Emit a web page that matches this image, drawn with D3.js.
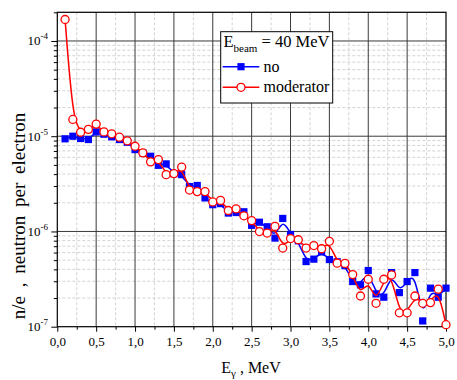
<!DOCTYPE html>
<html>
<head>
<meta charset="utf-8">
<script src="https://cdn.jsdelivr.net/npm/d3@7"></script>
<style>
  html, body { margin: 0; padding: 0; background: #fff; }
  svg { display: block; }
  text { font-family: "Liberation Serif", "Times New Roman", serif; fill: #000; }
</style>
</head>
<body>
<svg id="chart" width="457" height="380"></svg>
<script>
// Photon energy, MeV
const energy = [0.1,0.2,0.3,0.4,0.5,0.6,0.7,0.8,0.9,1.0,
                1.1,1.2,1.3,1.4,1.5,1.6,1.7,1.8,1.9,2.0,
                2.1,2.2,2.3,2.4,2.5,2.6,2.7,2.8,2.9,3.0,
                3.1,3.2,3.3,3.4,3.5,3.6,3.7,3.8,3.9,4.0,
                4.1,4.2,4.3,4.4,4.5,4.6,4.7,4.8,4.9,5.0];

// Neutron yield per electron, no moderator
const noModerator = [9.39e-6,1.00e-5,9.46e-6,9.23e-6,1.11e-5,1.05e-5,9.86e-6,9.23e-6,8.65e-6,7.24e-6,
                     6.69e-6,6.16e-6,4.95e-6,5.12e-6,4.05e-6,3.95e-6,2.96e-6,3.04e-6,2.25e-6,1.91e-6,
                     1.96e-6,1.56e-6,1.58e-6,1.61e-6,1.16e-6,1.25e-6,1.12e-6,8.52e-7,1.37e-6,9.30e-7,
                     7.98e-7,4.83e-7,5.12e-7,6.11e-7,5.07e-7,4.80e-7,4.38e-7,2.98e-7,2.75e-7,3.89e-7,
                     2.21e-7,2.04e-7,3.70e-7,2.28e-7,2.98e-7,3.70e-7,1.15e-7,2.54e-7,2.04e-7,2.54e-7];

// Neutron yield per electron, with moderator
const withModerator = [1.68e-4,1.50e-5,1.10e-5,1.18e-5,1.34e-5,1.11e-5,1.06e-5,9.76e-6,8.95e-6,7.85e-6,
                       6.69e-6,5.38e-6,5.69e-6,3.95e-6,4.05e-6,4.74e-6,2.72e-6,2.62e-6,2.62e-6,2.04e-6,
                       2.12e-6,1.66e-6,1.73e-6,1.46e-6,1.30e-6,9.97e-7,9.62e-7,1.13e-6,6.69e-7,8.42e-7,
                       8.18e-7,6.69e-7,7.11e-7,6.58e-7,7.88e-7,4.65e-7,4.62e-7,3.53e-7,2.10e-7,3.15e-7,
                       1.76e-7,3.15e-7,3.50e-7,1.40e-7,1.40e-7,2.10e-7,1.76e-7,1.79e-7,2.48e-7,1.05e-7];

const xTicks = [0,0.5,1.0,1.5,2.0,2.5,3.0,3.5,4.0,4.5,5.0];
const xMinorTicks = [0.25,0.75,1.25,1.75,2.25,2.75,3.25,3.75,4.25,4.75];
const yTicks = [1e-7,1e-6,1e-5,1e-4];
const yTickExponents = ["-7","-6","-5","-4"];
const seriesNames = ["no","moderator"];

const svg = d3.select("#chart");
const plotLeft = 57.3, plotRight = 446, plotTop = 12.3, plotBottom = 326.7;

const x = d3.scaleLinear().domain([0, 5]).range([plotLeft, plotRight]);
const y = d3.scaleLog().domain([1e-7, 2e-4]).range([plotBottom, plotTop]);

// minor y values: 2..9 within each decade
const yMinor = [];
yTicks.forEach(d => { for (let k = 2; k <= 9; k++) { const v = d * k; if (v <= 2e-4) yMinor.push(v); } });

// grid
const grid = svg.append("g");
grid.selectAll(".gxm").data(xMinorTicks).join("line")
  .attr("x1", d => x(d)).attr("x2", d => x(d)).attr("y1", plotTop).attr("y2", plotBottom)
  .attr("stroke", "#c8c8c8").attr("stroke-width", 0.8).attr("stroke-dasharray", "3,2");
grid.selectAll(".gym").data(yMinor).join("line")
  .attr("x1", plotLeft).attr("x2", plotRight).attr("y1", d => y(d)).attr("y2", d => y(d))
  .attr("stroke", "#c8c8c8").attr("stroke-width", 0.8).attr("stroke-dasharray", "3,2");
grid.selectAll(".gx").data(xTicks.slice(1, -1)).join("line")
  .attr("x1", d => x(d)).attr("x2", d => x(d)).attr("y1", plotTop).attr("y2", plotBottom)
  .attr("stroke", "#3a3a3a").attr("stroke-width", 1);
grid.selectAll(".gy").data(yTicks.slice(1)).join("line")
  .attr("x1", plotLeft).attr("x2", plotRight).attr("y1", d => y(d)).attr("y2", d => y(d))
  .attr("stroke", "#3a3a3a").attr("stroke-width", 1);

// frame
svg.append("rect").attr("x", plotLeft).attr("y", plotTop)
  .attr("width", plotRight - plotLeft).attr("height", plotBottom - plotTop)
  .attr("fill", "none").attr("stroke", "#000").attr("stroke-width", 1.2);

// axes
const xAxis = svg.append("g").attr("transform", `translate(0,${plotBottom})`)
  .call(d3.axisBottom(x).tickValues(xTicks).tickSize(5).tickFormat(d => d3.format(".1f")(d).replace(".", ",")));
xAxis.select(".domain").remove();
xAxis.selectAll("text").attr("font-size", 13).attr("dy", "0.78em").attr("y", 9)
  .style("font-family", "'Liberation Serif', serif");
xAxis.selectAll("line").attr("stroke", "#000");
svg.append("g").attr("transform", `translate(0,${plotBottom})`)
  .call(d3.axisBottom(x).tickValues(xMinorTicks).tickSize(3).tickFormat(""))
  .call(g => g.select(".domain").remove())
  .selectAll("line").attr("stroke", "#000");

const yAxis = svg.append("g").attr("transform", `translate(${plotLeft},0)`)
  .call(d3.axisLeft(y).tickValues(yTicks).tickSize(6).tickFormat(""));
yAxis.select(".domain").remove();
yAxis.selectAll("line").attr("stroke", "#000");
svg.append("g").attr("transform", `translate(${plotLeft},0)`)
  .call(d3.axisLeft(y).tickValues(yMinor).tickSize(3.5).tickFormat(""))
  .call(g => g.select(".domain").remove())
  .selectAll("line").attr("stroke", "#000");

const yl = svg.append("g").selectAll("text").data(yTicks).join("text")
  .attr("x", 48).attr("y", d => y(d) + 4.5).attr("text-anchor", "end").attr("font-size", 13);
yl.append("tspan").text("10");
yl.append("tspan").attr("font-size", 9).attr("dy", -6).text((d, i) => yTickExponents[i]);

// axis titles
const xt = svg.append("text").attr("x", 251).attr("y", 373).attr("text-anchor", "middle").attr("font-size", 16);
xt.append("tspan").text("E");
xt.append("tspan").attr("font-size", 11).attr("dy", 3.5).text("γ");
xt.append("tspan").attr("dy", -3.5).text(" , MeV");

svg.append("text").attr("transform", "translate(25,216) rotate(-90)").attr("text-anchor", "middle")
  .attr("font-size", 19).style("word-spacing", "4px").text("n/e , neutron per electron");

// series
const line = d3.line().x((d, i) => x(energy[i])).y(d => y(d)).curve(d3.curveBasis);

svg.append("path").datum(noModerator).attr("d", line)
  .attr("fill", "none").attr("stroke", "#0000ff").attr("stroke-width", 1.5);
svg.append("g").selectAll("rect").data(noModerator).join("rect")
  .attr("x", (d, i) => x(energy[i]) - 3.6).attr("y", d => y(d) - 3.6)
  .attr("width", 7.2).attr("height", 7.2).attr("fill", "#0000ff");

svg.append("path").datum(withModerator).attr("d", line)
  .attr("fill", "none").attr("stroke", "#ff0000").attr("stroke-width", 1.5);
svg.append("g").selectAll("circle").data(withModerator).join("circle")
  .attr("cx", (d, i) => x(energy[i])).attr("cy", d => y(d)).attr("r", 4)
  .attr("fill", "#fff").attr("stroke", "#ff0000").attr("stroke-width", 1.3);

// legend
const lg = svg.append("g");
lg.append("rect").attr("x", 220.7).attr("y", 31.7).attr("width", 112).attr("height", 71.3)
  .attr("fill", "#fff").attr("stroke", "#000").attr("stroke-width", 1);
const lt = lg.append("text").attr("x", 223.5).attr("y", 47).attr("font-size", 16.5);
lt.append("tspan").text("E");
lt.append("tspan").attr("font-size", 11).attr("dy", 5).text("beam");
lt.append("tspan").attr("dy", -5).text(" = 40 MeV");

const rows = [
  { name: seriesNames[0], color: "#0000ff", y: 66.7, marker: "square" },
  { name: seriesNames[1], color: "#ff0000", y: 87.3, marker: "circle" }
];
rows.forEach(r => {
  lg.append("line").attr("x1", 222.7).attr("x2", 259.3).attr("y1", r.y).attr("y2", r.y)
    .attr("stroke", r.color).attr("stroke-width", 1.5);
  if (r.marker === "square") {
    lg.append("rect").attr("x", 241 - 3.6).attr("y", r.y - 3.6).attr("width", 7.2).attr("height", 7.2).attr("fill", r.color);
  } else {
    lg.append("circle").attr("cx", 241).attr("cy", r.y).attr("r", 4).attr("fill", "#fff")
      .attr("stroke", r.color).attr("stroke-width", 1.3);
  }
  lg.append("text").attr("x", 263.5).attr("y", r.y + 5).attr("font-size", 16).text(r.name);
});
</script>
</body>
</html>
